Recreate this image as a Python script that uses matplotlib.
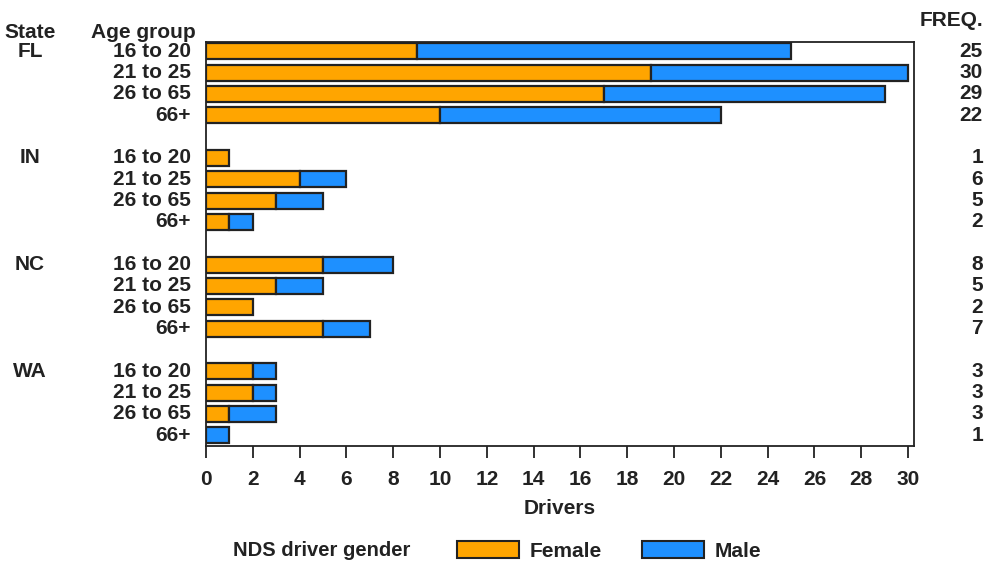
import matplotlib
matplotlib.use("Agg")
import matplotlib.pyplot as plt
from matplotlib.patches import Patch
from matplotlib.transforms import blended_transform_factory

plt.rcParams['font.family'] = ['Liberation Sans', 'DejaVu Sans']
plt.rcParams['font.weight'] = 'bold'

states = ["FL", "IN", "NC", "WA"]
age_groups = ["16 to 20", "21 to 25", "26 to 65", "66+"]
female = [[9, 19, 17, 10], [1, 4, 3, 1], [5, 3, 2, 5], [2, 2, 1, 0]]
male = [[16, 11, 12, 12], [0, 2, 2, 1], [3, 2, 0, 2], [1, 1, 2, 1]]
xticks = list(range(0, 31, 2))

c_f = "#FFA500"
c_m = "#1E90FF"
edge = "#222222"

fig = plt.figure(figsize=(9.87, 5.63), dpi=100)
ax = fig.add_axes([0.2087, 1 - 446 / 563, 0.926 - 0.2087, (446 - 42) / 563])

fs = 15
tc = '#222222'
tr = blended_transform_factory(fig.transFigure, ax.transData)
for si, st in enumerate(states):
    for ai, ag in enumerate(age_groups):
        y = si * 5 + ai
        f = female[si][ai]
        m = male[si][ai]
        if f > 0:
            ax.barh(y, f, height=0.75, color=c_f, edgecolor=edge, linewidth=1.6)
        if m > 0:
            ax.barh(y, m, left=f, height=0.75, color=c_m, edgecolor=edge, linewidth=1.6)
        ax.text(191 / 987, y, ag, transform=tr, ha='right', va='center', fontsize=fs, fontweight='bold', color=tc)
        ax.text(983 / 987, y, str(f + m), transform=tr, ha='right', va='center', fontsize=fs, fontweight='bold', color=tc)
    ax.text(30 / 987, si * 5, st, transform=tr, ha='center', va='center', fontsize=fs, fontweight='bold', color=tc)

fig.text(30 / 987, 1 - 33 / 563, "State", ha='center', va='center', fontsize=fs, fontweight='bold', color=tc)
fig.text(196 / 987, 1 - 33 / 563, "Age group", ha='right', va='center', fontsize=fs, fontweight='bold', color=tc)
fig.text(983 / 987, 1 - 20 / 563, "FREQ.", ha='right', va='center', fontsize=fs, fontweight='bold', color=tc)

ax.set_xlim(0, 30.25)
ax.set_ylim(18.5, -0.43)
ax.set_yticks([])
ax.set_xticks(xticks)
ax.set_xticklabels([str(t) for t in xticks], fontsize=fs, fontweight='bold', color=tc)
ax.tick_params(axis='x', length=8.6, width=1.3, pad=9, color=tc)
for s in ax.spines.values():
    s.set_linewidth(1.3)
    s.set_color(tc)
ax.set_xlabel("Drivers", fontsize=fs, fontweight='bold', labelpad=7, color=tc)

fig.text(233 / 987, 1 - 551 / 563, "NDS driver gender", ha='left', va='center', fontsize=14.5, fontweight='bold', color=tc)
handles = [Patch(facecolor=c_f, edgecolor=edge, linewidth=1.5, label="Female"),
           Patch(facecolor=c_m, edgecolor=edge, linewidth=1.5, label="Male")]
fig.legend(handles=handles, loc='center left', bbox_to_anchor=(438 / 987, 1 - 551 / 563), ncol=2,
           frameon=False, handlelength=3.0, handleheight=0.85, columnspacing=1.9, handletextpad=0.5,
           prop={'size': fs, 'weight': 'bold'}, labelcolor=tc)

fig.savefig("out.png", dpi=100)
